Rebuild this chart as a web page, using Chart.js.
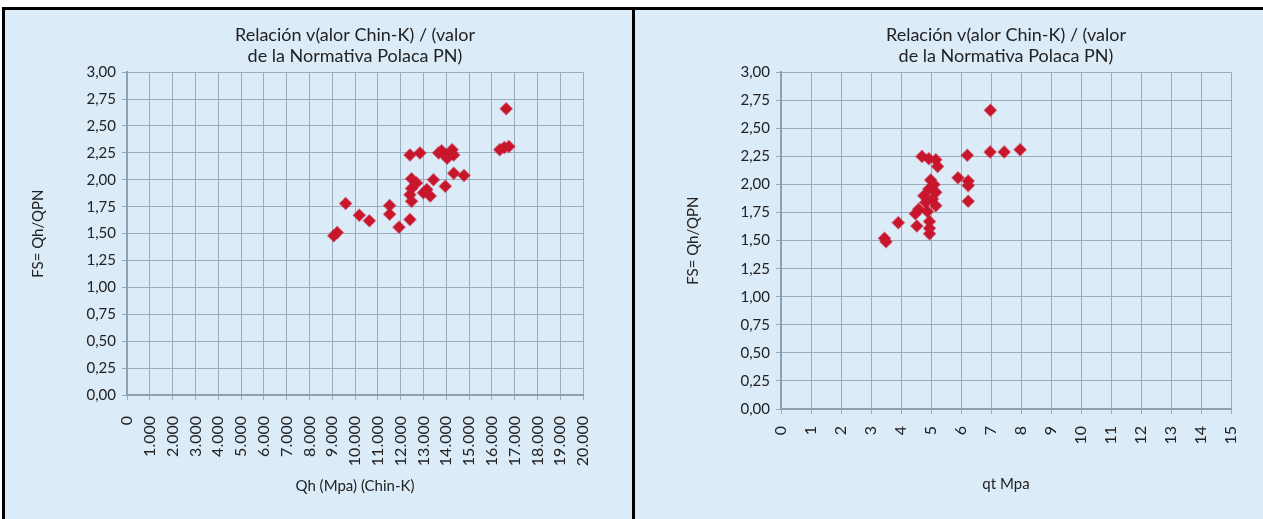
<!DOCTYPE html>
<html>
<head>
<meta charset="utf-8">
<script src="https://cdn.jsdelivr.net/npm/chart.js@4/dist/chart.umd.min.js"></script>
<style>
html, body { margin: 0; padding: 0; background: #fff; width: 1263px; height: 519px; overflow: hidden; }
#frame { position: absolute; left: 2px; top: 7px; width: 1258px; height: 509px; border-top: 3px solid #000; border-left: 3px solid #000; display: flex; }
.panel { position: relative; height: 509px; background: #dcebf8; }
#pl { width: 627px; border-right: 3px solid #000; }
#pr { width: 628px; }
canvas { display: block; }
</style>
</head>
<body>
<div id="frame">
  <div class="panel" id="pl"><canvas id="chart-qh" width="627" height="509"></canvas></div>
  <div class="panel" id="pr"><canvas id="chart-qt" width="628" height="509"></canvas></div>
</div>
<script>
// values
const chartTitle = ['Relación v(alor Chin-K) / (valor', 'de la Normativa Polaca PN)'];
const yTitle = 'FS= Qh/QPN';

// left chart: Qh (Chin-K) vs FS
const qhValues = [16630, 16350, 16550, 16750, 12410, 12850, 13670, 13800, 13960, 14260, 14040, 14330,
    14330, 14780, 13440, 13960, 12480, 12700, 12480, 12410, 12480, 13000, 13300, 13150,
    9590, 11520, 11520, 10190, 10630, 12410, 11930, 9220, 9070];
const fsLeft = [2.66, 2.28, 2.30, 2.31, 2.23, 2.25, 2.25, 2.27, 2.23, 2.28, 2.20, 2.23,
    2.06, 2.04, 2.00, 1.94, 2.01, 1.97, 1.92, 1.86, 1.80, 1.88, 1.85, 1.91,
    1.78, 1.76, 1.68, 1.67, 1.62, 1.63, 1.56, 1.51, 1.48];

// right chart: qt vs FS
const qtValues = [6.98, 6.97, 7.44, 7.97, 6.21, 4.70, 4.93, 5.16, 5.22, 5.90, 6.24, 6.24, 6.24,
    4.99, 5.10, 4.93, 5.16, 4.76, 5.05, 4.82, 5.16, 4.59, 4.88, 4.48,
    3.91, 4.53, 4.95, 4.95, 4.95, 3.45, 3.50];
const fsRight = [2.66, 2.29, 2.29, 2.31, 2.26, 2.25, 2.23, 2.22, 2.16, 2.06, 2.03, 1.99, 1.85,
    2.04, 2.00, 1.96, 1.93, 1.90, 1.87, 1.84, 1.81, 1.78, 1.76, 1.74,
    1.66, 1.63, 1.67, 1.61, 1.56, 1.52, 1.49];

const FONT = 'Lato, "Open Sans", sans-serif';
const TEXT = '#222';
const GRID = '#97adbf';
const AXIS = '#8ea1b1';
const RED = '#c8172c';

function toPoints(xs, ys) {
    const pts = [];
    for (let j = 0; j < xs.length; j++) pts.push({ x: xs[j], y: ys[j] });
    return pts;
}

function makeChart(id, xs, ys, cfg) {
    const ctx = document.getElementById(id).getContext('2d');
    return new Chart(ctx, {
        type: 'scatter',
        data: {
            datasets: [{
                data: toPoints(xs, ys),
                pointStyle: 'rectRot',
                pointRadius: 6,
                backgroundColor: RED,
                borderColor: 'rgba(200, 23, 44, 0.45)',
                borderWidth: 1.5
            }]
        },
        options: {
            responsive: false,
            animation: false,
            events: [],
            layout: { padding: { left: 0, right: cfg.padRight, top: 0, bottom: cfg.padBottom } },
            plugins: {
                legend: { display: false },
                tooltip: { enabled: false },
                title: {
                    display: true,
                    fullSize: false,
                    text: chartTitle,
                    color: TEXT,
                    font: { family: FONT, size: 18, weight: 'normal', lineHeight: 1.2 },
                    padding: { top: 14, bottom: 5 }
                }
            },
            scales: {
                x: {
                    type: 'linear',
                    min: cfg.xMin, max: cfg.xMax,
                    afterFit: s => { s.height = cfg.xHeight; },
                    afterBuildTicks: s => {
                        s.ticks = [];
                        for (let v = cfg.xMin; v <= cfg.xMax; v += cfg.xStep) s.ticks.push({ value: v });
                    },
                    title: { display: true, text: cfg.xTitle, color: TEXT, font: { family: FONT, size: 15 }, padding: { top: 4, bottom: 4 } },
                    grid: { color: GRID, lineWidth: 1, tickLength: 5 },
                    border: { color: AXIS, width: 2 },
                    ticks: {
                        autoSkip: false, minRotation: 90, maxRotation: 90,
                        padding: cfg.xTickPad, color: TEXT,
                        font: { family: FONT, size: 16 },
                        callback: cfg.xFormat
                    }
                },
                y: {
                    min: 0, max: 3,
                    afterFit: s => { s.width = cfg.yWidth; },
                    title: { display: true, text: yTitle, color: TEXT, font: { family: FONT, size: 15 }, padding: { top: cfg.yTitlePad, bottom: 0 } },
                    grid: { color: GRID, lineWidth: 1, tickLength: 5 },
                    border: { color: AXIS, width: 2 },
                    ticks: {
                        stepSize: 0.25, padding: 6, color: TEXT,
                        font: { family: FONT, size: 15 },
                        callback: v => v.toFixed(2).replace('.', ',')
                    }
                }
            }
        }
    });
}

makeChart('chart-qh', qhValues, fsLeft, {
    xMin: 0, xMax: 20000, xStep: 1000,
    xTitle: 'Qh (Mpa) (Chin-K)',
    xFormat: v => v === 0 ? '0' : (v / 1000).toFixed(3),
    yWidth: 122, xHeight: 104, padRight: 49, padBottom: 20,
    xTickPad: 16, yTitlePad: 24
});

makeChart('chart-qt', qtValues, fsRight, {
    xMin: 0, xMax: 15, xStep: 1,
    xTitle: 'qt Mpa',
    xFormat: v => String(v),
    yWidth: 146, xHeight: 88, padRight: 32, padBottom: 22,
    xTickPad: 12, yTitlePad: 49
});
</script>
</body>
</html>
